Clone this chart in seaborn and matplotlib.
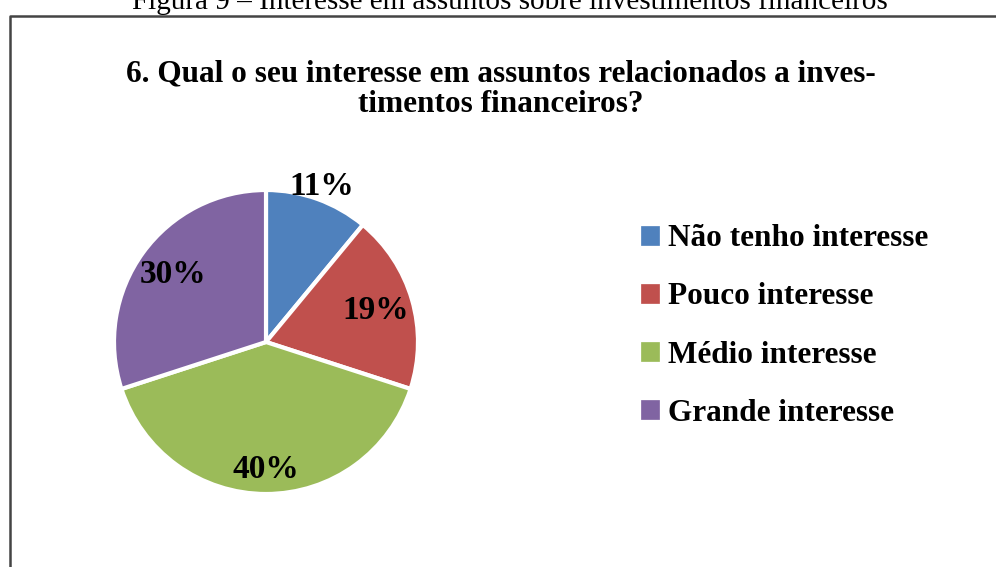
import numpy as np
import matplotlib
matplotlib.use("Agg")
import matplotlib.pyplot as plt
import seaborn as sns
from matplotlib.lines import Line2D

# ==============================
# Data
# ==============================

categories = ["Não tenho interesse", "Pouco interesse", "Médio interesse", "Grande interesse"]
shares = [11, 19, 40, 30]
colors = ["#4F81BD", "#C0504D", "#9BBB59", "#8064A2"]

title = "6. Qual o seu interesse em assuntos relacionados a inves-\ntimentos financeiros?"
caption = "Figura 9 – Interesse em assuntos sobre investimentos financeiros"

# label distance from centre (fraction of radius) for each slice
label_dist = [1.09, 0.75, 0.84, 0.76]

sns.set_style("white")
plt.rcParams["font.family"] = ["Liberation Serif", "DejaVu Serif"]
plt.rcParams["text.color"] = "black"

W, H = 996, 567
fig = plt.figure(figsize=(W / 100, H / 100), dpi=100)

# pie axes: centre (266, 342), radius 152 px
cx, cy, r = 266, 342, 152
ax = fig.add_axes([(cx - r) / W, (H - cy - r) / H, 2 * r / W, 2 * r / H])

wedges, texts, autotexts = ax.pie(
    shares,
    colors=sns.color_palette(colors),
    startangle=90,
    counterclock=False,
    autopct="%1.0f%%",
    wedgeprops=dict(edgecolor="white", linewidth=3),
    textprops=dict(fontsize=24, fontweight="bold", color="black"),
)
ax.set_xlim(-1, 1)
ax.set_ylim(-1, 1)
ax.set_aspect("equal")

# move percent labels like the original (Excel best fit)
for w, t, d in zip(wedges, autotexts, label_dist):
    ang = np.deg2rad((w.theta1 + w.theta2) / 2)
    t.set_position((d * np.cos(ang), d * np.sin(ang)))
    t.set_ha("center")
    t.set_va("center")

# legend
leg = fig.legend(
    wedges, categories,
    loc="center left",
    bbox_to_anchor=(641 / W, 1 - 326 / H),
    frameon=False,
    prop=dict(size=22.5, weight="bold"),
    handlelength=0.58, handleheight=0.58,
    handletextpad=0.28,
    labelspacing=0.93,
    borderpad=0,
    borderaxespad=0,
)
for txt in leg.get_texts():
    txt.set_color("black")
for h, c in zip(leg.legend_handles, colors):
    h.set_edgecolor(c)
    h.set_linewidth(0.5)

# title
fig.text(501 / W, 1 - 89 / H, title, ha="center", va="center",
         fontsize=22.5, fontweight="bold", linespacing=1.05, color="black")

# caption cut at the top of the picture
fig.text(510 / W, 1 - 9 / H, caption, ha="center", va="baseline", fontsize=21,
         color="black")

# chart frame (only top and left visible)
fig.add_artist(Line2D([10 / W, 10 / W, 1.0], [0.0, 1 - 16 / H, 1 - 16 / H],
                      transform=fig.transFigure, color="#444444", linewidth=1.8))

fig.savefig("out.png", dpi=100)
